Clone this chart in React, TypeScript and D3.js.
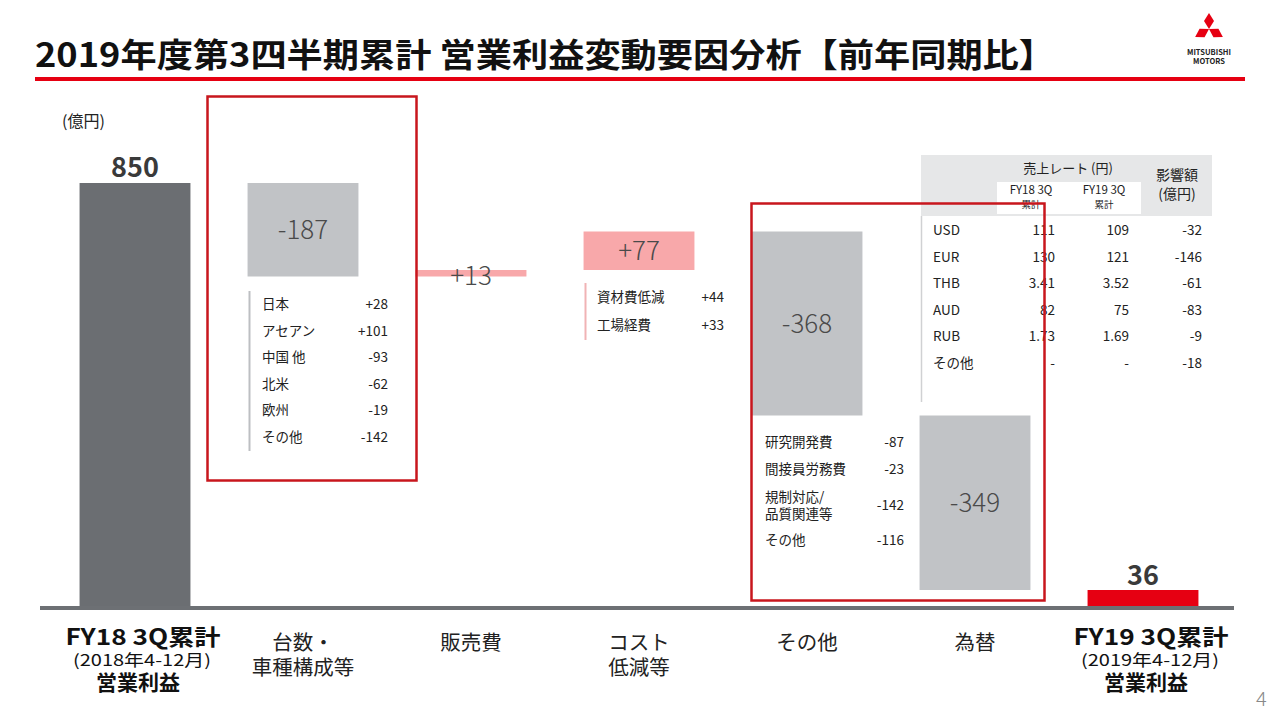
import React from "react";
import * as d3 from "d3";

const categories = ["FY18", "volume", "selling", "cost", "other", "fx", "FY19"];
const startValue = 850;
const deltas = [-187, 13, 77, -368, -349];
const endValue = 36;

const catLabels: string[][] = [
  [],
  ["台数・", "車種構成等"],
  ["販売費"],
  ["コスト", "低減等"],
  ["その他"],
  ["為替"],
  [],
];

const volumeItems = ["日本", "アセアン", "中国 他", "北米", "欧州", "その他"];
const volumeValues = ["+28", "+101", "-93", "-62", "-19", "-142"];
const costItems = ["資材費低減", "工場経費"];
const costValues = ["+44", "+33"];
const otherItems = [["研究開発費"], ["間接員労務費"], ["規制対応/", "品質関連等"], ["その他"]];
const otherValues = ["-87", "-23", "-142", "-116"];

const fxCurrencies = ["USD", "EUR", "THB", "AUD", "RUB", "その他"];
const fxRate18 = ["111", "130", "3.41", "82", "1.73", "-"];
const fxRate19 = ["109", "121", "3.52", "75", "1.69", "-"];
const fxImpact = ["-32", "-146", "-61", "-83", "-9", "-18"];

const FONT = "'Noto Sans CJK JP', 'Noto Sans', sans-serif";
const RED = "#e60012";
const BOXRED = "#c8161d";
const DARK = "#6b6e72";
const LIGHT = "#c1c3c6";
const PINK = "#f8a8aa";
const TXT = "#222";

export default function App() {
  const x = d3.scaleBand<string>().domain(categories).range([51, 1227]).paddingInner(0.34).paddingOuter(0.17);
  const y = d3.scaleLinear().domain([0, 850]).range([608, 183]);
  const bw = x.bandwidth();

  const segs: { key: string; from: number; to: number; fill: string; label: string }[] = [];
  segs.push({ key: categories[0], from: 0, to: startValue, fill: DARK, label: String(startValue) });
  let cum = startValue;
  deltas.forEach((d, i) => {
    segs.push({
      key: categories[i + 1],
      from: cum,
      to: cum + d,
      fill: d < 0 ? LIGHT : PINK,
      label: (d > 0 ? "+" : "") + d,
    });
    cum += d;
  });
  segs.push({ key: categories[6], from: 0, to: endValue, fill: RED, label: String(endValue) });

  const cx = (k: string) => (x(k) as number) + bw / 2;

  const diamond = (angle: number) => {
    const L = 16, W = 5;
    const pts = [
      [0, 0],
      [L / 2, -W],
      [L, 0],
      [L / 2, W],
    ];
    return (
      <polygon
        points={pts.map((p) => p.join(",")).join(" ")}
        fill={RED}
        transform={`translate(1209,29) rotate(${angle})`}
      />
    );
  };

  return (
    <svg width={1280} height={720} style={{ position: "absolute", left: 0, top: 0, background: "#fff" }} fontFamily={FONT}>
      <rect x={0} y={0} width={1280} height={720} fill="#fff" />
      {/* Title */}
      <text x={35} y={67} fontSize={33} fontWeight={700} fill="#111" textLength={1020} lengthAdjust="spacingAndGlyphs">
        2019年度第3四半期累計 営業利益変動要因分析【前年同期比】
      </text>
      <rect x={35} y={77} width={1210} height={4} fill={RED} />
      {/* Logo */}
      {diamond(-90)}
      {diamond(150)}
      {diamond(30)}
      <text x={1209} y={55} fontSize={7.5} fontWeight={700} textAnchor="middle" fill="#222">MITSUBISHI</text>
      <text x={1209} y={63.5} fontSize={7.5} fontWeight={700} textAnchor="middle" fill="#222">MOTORS</text>

      <text x={62} y={127} fontSize={16} fill={TXT}>(億円)</text>

      {/* FX table background */}
      <rect x={921} y={155} width={291} height={61} fill="#e6e7e8" />
      <rect x={997} y={182} width={144} height={32} fill="#fff" />
      <line x1={921.5} x2={921.5} y1={216} y2={402} stroke="#d0d1d3" strokeWidth={1.5} />
      <text x={1068} y={173} fontSize={13} textAnchor="middle" fill={TXT}>売上レート (円)</text>
      <text x={1031} y={194} fontSize={11.5} textAnchor="middle" fill={TXT}>FY18 3Q</text>
      <text x={1031} y={208} fontSize={9.5} textAnchor="middle" fill={TXT}>累計</text>
      <text x={1104} y={194} fontSize={11.5} textAnchor="middle" fill={TXT}>FY19 3Q</text>
      <text x={1104} y={208} fontSize={9.5} textAnchor="middle" fill={TXT}>累計</text>
      <text x={1177} y={180} fontSize={14} textAnchor="middle" fill={TXT}>影響額</text>
      <text x={1177} y={199} fontSize={14} textAnchor="middle" fill={TXT}>(億円)</text>
      {fxCurrencies.map((c, i) => {
        const yy = 235 + i * 26.6;
        return (
          <g key={c} fontSize={13.5} fill={TXT}>
            <text x={933} y={yy}>{c}</text>
            <text x={1055} y={yy} textAnchor="end">{fxRate18[i]}</text>
            <text x={1129} y={yy} textAnchor="end">{fxRate19[i]}</text>
            <text x={1202} y={yy} textAnchor="end">{fxImpact[i]}</text>
          </g>
        );
      })}

      {/* Bars */}
      {segs.map((s) => {
        const top = y(Math.max(s.from, s.to));
        const bot = y(Math.min(s.from, s.to));
        return <rect key={s.key} x={x(s.key)} y={top} width={bw} height={Math.max(bot - top, 1)} fill={s.fill} />;
      })}

      {/* Bar labels */}
      <text x={cx("FY18")} y={177} fontSize={27} fontWeight={700} textAnchor="middle" fill="#3a3a3a">{segs[0].label}</text>
      <text x={cx("FY19")} y={585} fontSize={27} fontWeight={700} textAnchor="middle" fill="#3a3a3a">{segs[6].label}</text>
      {segs.slice(1, 6).map((s) => {
        const top = y(Math.max(s.from, s.to));
        const bot = y(Math.min(s.from, s.to));
        const mid = (top + bot) / 2;
        const yy = bot - top < 20 ? mid + 12 : mid + 9;
        return (
          <text key={"l" + s.key} x={cx(s.key)} y={yy} fontSize={26} textAnchor="middle" fill="#4a4a4a" fontWeight={300}>
            {s.label}
          </text>
        );
      })}

      {/* Volume breakdown */}
      <line x1={249.5} x2={249.5} y1={291} y2={451} stroke="#bdbfc2" strokeWidth={2} />
      {volumeItems.map((t, i) => {
        const yy = 309 + i * 26.6;
        return (
          <g key={t + i} fontSize={13.5} fill={TXT}>
            <text x={262} y={yy}>{t}</text>
            <text x={388} y={yy} textAnchor="end">{volumeValues[i]}</text>
          </g>
        );
      })}

      {/* Cost breakdown */}
      <line x1={585.5} x2={585.5} y1={283} y2={340} stroke="#f0b3b5" strokeWidth={2} />
      {costItems.map((t, i) => {
        const yy = 302 + i * 27.5;
        return (
          <g key={t} fontSize={13.5} fill={TXT}>
            <text x={597} y={yy}>{t}</text>
            <text x={724} y={yy} textAnchor="end">{costValues[i]}</text>
          </g>
        );
      })}

      {/* Other breakdown */}
      {otherItems.map((lines, i) => {
        const yMid = [442, 469, 505, 540][i];
        return (
          <g key={"o" + i} fontSize={13.5} fill={TXT}>
            {lines.map((ln, j) => (
              <text key={j} x={765} y={yMid + 5 + (lines.length === 2 ? (j === 0 ? -8.5 : 8.5) : 0)}>{ln}</text>
            ))}
            <text x={904} y={yMid + 5} textAnchor="end">{otherValues[i]}</text>
          </g>
        );
      })}

      {/* Baseline */}
      <rect x={40} y={606} width={1194} height={4} fill="#6d7074" />

      {/* Highlight boxes */}
      <rect x={207.5} y={96.5} width={209} height={384} fill="none" stroke={BOXRED} strokeWidth={2.5} />
      <rect x={751.5} y={203.5} width={293} height={397} fill="none" stroke={BOXRED} strokeWidth={2.5} />

      {/* Category labels */}
      {categories.map((c, i) =>
        catLabels[i].map((ln, j) => (
          <text key={c + j} x={cx(c)} y={650 + j * 25} fontSize={20.5} textAnchor="middle" fill={TXT}>{ln}</text>
        ))
      )}
      {[
        { k: "FY18", yr: "(2018年4-12月)", t: "FY18 3Q累計" },
        { k: "FY19", yr: "(2019年4-12月)", t: "FY19 3Q累計" },
      ].map((d) => (
        <g key={d.k} textAnchor="middle" fill="#111">
          <text x={cx(d.k) + 8} y={645} fontSize={22} fontWeight={700} textLength={155} lengthAdjust="spacingAndGlyphs">{d.t}</text>
          <text x={cx(d.k) + 7} y={666} fontSize={16} textLength={138} lengthAdjust="spacingAndGlyphs">{d.yr}</text>
          <text x={cx(d.k) + 3} y={690} fontSize={21} fontWeight={700}>営業利益</text>
        </g>
      ))}
      <text x={1256} y={706} fontSize={20} fill="#888" fontWeight={300}>4</text>
    </svg>
  );
}
